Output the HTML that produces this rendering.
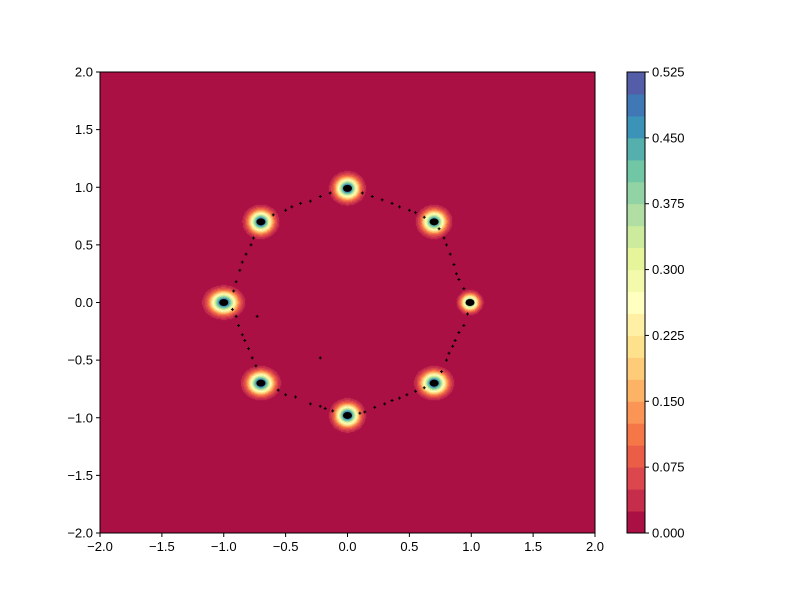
<!DOCTYPE html>
<html><head><meta charset="utf-8"><style>
html,body{margin:0;padding:0;background:#fff;width:800px;height:600px;overflow:hidden}
#wrap{position:relative;width:800px;height:600px}
canvas{position:absolute;left:100px;top:72px}
svg{position:absolute;left:0;top:0}
text{font-family:"Liberation Sans","DejaVu Sans",sans-serif;font-size:13px;fill:#000}
</style></head><body>
<div id="wrap">
<canvas id="cv" width="495" height="461"></canvas>
<svg id="sv" width="800" height="600"></svg>
</div>
<script>
const centerX=[0,0.7,0.99,0.7,0,-0.7,-1.0,-0.7];
const centerY=[0.99,0.7,0,-0.7,-0.98,-0.7,0,0.7];
const amp=[0.55,0.52,0.48,0.55,0.55,0.55,0.55,0.55];
const sigX=[0.06,0.06,0.045,0.065,0.06,0.065,0.07,0.06];
const sigY=[0.06,0.06,0.045,0.06,0.06,0.06,0.06,0.06];
const ptX=[0.12,0.2,0.28,0.36,0.42,0.5,0.55,0.62,0.74,0.78,0.8,0.83,0.86,0.88,0.9,0.94,0.97,0.94,0.9,0.87,0.85,0.82,0.8,0.76,0.62,0.55,0.48,0.42,0.36,0.3,0.22,0.14,0.1,-0.12,-0.18,-0.22,-0.3,-0.42,-0.5,-0.56,-0.74,-0.77,-0.8,-0.83,-0.85,-0.88,-0.9,-0.93,-0.92,-0.9,-0.87,-0.85,-0.82,-0.78,-0.76,-0.6,-0.5,-0.45,-0.38,-0.3,-0.22,-0.14,-0.73,-0.22];
const ptY=[0.95,0.92,0.89,0.86,0.83,0.8,0.78,0.74,0.64,0.56,0.5,0.42,0.33,0.25,0.2,0.12,-0.1,-0.2,-0.26,-0.33,-0.38,-0.44,-0.5,-0.6,-0.74,-0.77,-0.8,-0.83,-0.85,-0.88,-0.91,-0.95,-0.96,-0.94,-0.92,-0.9,-0.88,-0.82,-0.8,-0.76,-0.55,-0.48,-0.4,-0.33,-0.28,-0.2,-0.12,-0.06,0.1,0.18,0.28,0.35,0.42,0.5,0.56,0.76,0.8,0.83,0.86,0.88,0.92,0.95,-0.12,-0.48];
const axisTicks=[-2,-1.5,-1,-0.5,0,0.5,1,1.5,2];
const axisTickLabels=["−2.0","−1.5","−1.0","−0.5","0.0","0.5","1.0","1.5","2.0"];
const cbTicks=[0,0.075,0.15,0.225,0.3,0.375,0.45,0.525];
const cbTickLabels=["0.000","0.075","0.150","0.225","0.300","0.375","0.450","0.525"];
const levelStep=0.025, nLevels=21;

const spec=["9e0142","d53e4f","f46d43","fdae61","fee08b","ffffbf","e6f598","abdda4","66c2a5","3288bd","5e4fa2"].map(h=>[parseInt(h.slice(0,2),16),parseInt(h.slice(2,4),16),parseInt(h.slice(4,6),16)]);
function cmap(t){const s=t*10,i=Math.min(9,Math.floor(s)),f=s-i;return spec[i].map((v,k)=>Math.round(v+(spec[i+1][k]-v)*f));}
const colors=[];for(let i=0;i<nLevels;i++)colors.push(cmap((i+0.5)/nLevels));
const L=100,T=72,W=495,H=461;
const sx=v=>L+(v+2)/4*W, sy=v=>T+(2-v)/4*H;
const cv=document.getElementById('cv'),ctx=cv.getContext('2d');
const img=ctx.createImageData(W,H);
for(let py=0;py<H;py++){const y=2-(py+0.5)/H*4;for(let px=0;px<W;px++){const x=-2+(px+0.5)/W*4;let f=0;
for(let k=0;k<centerX.length;k++){const dx=(x-centerX[k])/sigX[k],dy=(y-centerY[k])/sigY[k];const e=(dx*dx+dy*dy)/2;if(e<20)f+=amp[k]*Math.exp(-e);}
let li=Math.min(nLevels-1,Math.floor(f/levelStep));const c=colors[li],o=(py*W+px)*4;img.data[o]=c[0];img.data[o+1]=c[1];img.data[o+2]=c[2];img.data[o+3]=255;}}
ctx.putImageData(img,0,0);
const NS="http://www.w3.org/2000/svg",sv=document.getElementById('sv');
function mk(tag,a,p){const e=document.createElementNS(NS,tag);for(const k in a)e.setAttribute(k,a[k]);(p||sv).appendChild(e);return e;}
// clusters
for(let k=0;k<centerX.length;k++){const e=mk('ellipse',{cx:sx(centerX[k]),cy:sy(centerY[k]),rx:4.5,ry:3.5,fill:'#000'});

}
// scatter points
for(let i=0;i<ptX.length;i++){const x=sx(ptX[i]),y=sy(ptY[i]);const e=mk('path',{d:`M${x-1.5},${y}h3M${x},${y-1.5}v3`,stroke:'#000','stroke-width':1});

}
// frame
const fr=mk('rect',{x:L,y:T,width:W,height:H,fill:'none',stroke:'#000','stroke-width':1});


axisTicks.forEach((v,i)=>{
const x=sx(v);const t1=mk('line',{x1:x,y1:T+H,x2:x,y2:T+H+4,stroke:'#000'});


const l1=mk('text',{x:x,y:T+H+18,'text-anchor':'middle'});l1.textContent=axisTickLabels[i];


const y=sy(v);const t2=mk('line',{x1:L-4,y1:y,x2:L,y2:y,stroke:'#000'});


const l2=mk('text',{x:L-7,y:y+4.5,'text-anchor':'end'});l2.textContent=axisTickLabels[i];


});
// colorbar
const CX=627,CW=18,CT=72,CH=461,bh=CH/nLevels;
for(let i=0;i<nLevels;i++){const c=colors[i];const r=mk('rect',{x:CX,y:CT+CH-(i+1)*bh,width:CW,height:bh+0.5,fill:`rgb(${c})`});

}
const cf=mk('rect',{x:CX,y:CT,width:CW,height:CH,fill:'none',stroke:'#000'});


cbTicks.forEach((v,i)=>{const y=CT+CH-v/(levelStep*nLevels)*CH;
const t=mk('line',{x1:CX+CW,y1:y,x2:CX+CW+4,y2:y,stroke:'#000'});


const l=mk('text',{x:CX+CW+7,y:y+4.5});l.textContent=cbTickLabels[i];

});
</script>
</body></html>
